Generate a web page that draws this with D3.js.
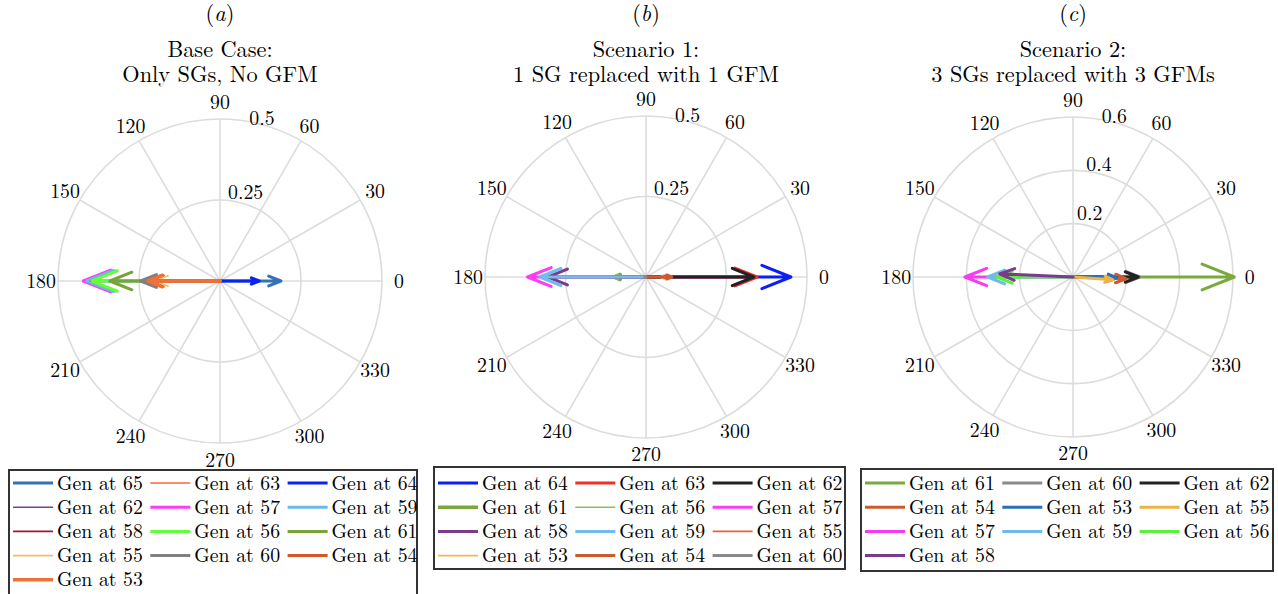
<!DOCTYPE html>
<html><head><meta charset="utf-8">
<script src="https://cdn.jsdelivr.net/npm/d3@7"></script>
</head>
<body style="margin:0;padding:0;background:#fff;">
<svg id="chart" width="1278" height="594" style="display:block;"></svg>
<script>
// ---------- DATA ----------
const angleTicks = [0,30,60,90,120,150,180,210,240,270,300,330];

// Panel (a) Base Case
const gensA   = ["Gen at 65","Gen at 63","Gen at 64","Gen at 62","Gen at 57","Gen at 59","Gen at 58","Gen at 56","Gen at 61","Gen at 55","Gen at 60","Gen at 54","Gen at 53"];
const magA    = [0.188, 0.215, 0.121, 0.405, 0.422, 0.411, 0.40, 0.396, 0.34, 0.20, 0.245, 0.222, 0.223];
const angA    = [0, 180, 0, 180, 180, 180, 180, 180, 180, 180, 180, 180, 180];
const rTicksA = [0.25, 0.5];

// Panel (b) Scenario 1
const gensB   = ["Gen at 64","Gen at 63","Gen at 62","Gen at 61","Gen at 56","Gen at 57","Gen at 58","Gen at 59","Gen at 55","Gen at 53","Gen at 54","Gen at 60"];
const magB    = [0.45, 0.345, 0.335, 0.10, 0.107, 0.368, 0.305, 0.33, 0.07, 0.06, 0.08, 0.004];
const angB    = [0, 0, 0, 180, 180, 180, 180, 180, 0, 0, 0, 180];
const rTicksB = [0.25, 0.5];

// Panel (c) Scenario 2
const gensC   = ["Gen at 61","Gen at 60","Gen at 62","Gen at 54","Gen at 53","Gen at 55","Gen at 57","Gen at 59","Gen at 56","Gen at 58"];
const magC    = [0.605, 0.25, 0.245, 0.20, 0.165, 0.15, 0.405, 0.32, 0.285, 0.275];
const angC    = [0, 0, 0, -2, -1, -4, 180, 180, 180, 177.5];
const rTicksC = [0.2, 0.4, 0.6];

const lettersAll = ["a","b","c"];
const titlesAll = [["Base Case:","Only SGs, No GFM"],["Scenario 1:","1 SG replaced with 1 GFM"],["Scenario 2:","3 SGs replaced with 3 GFMs"]];

// ---------- STYLES ----------
const colorsA = ["#3372b5","#f06a35","#0a24f0","#7b3f9a","#ff3bf5","#6cb8e8","#a0182e","#64ff3c","#77a33b","#ecc160","#808080","#d4562a","#f07038"];
const widthsA = [3,1.6,3,1.6,3,3,1.6,3,3,1.6,3,3,3.4];
const colorsB = ["#0a1ff5","#f0302a","#222222","#78a83c","#90bb5c","#ff3cf2","#7b3a8c","#72bce9","#e0653a","#f0b850","#cc5a2c","#8a8a8a"];
const widthsB = [3,3,3,3.4,1.6,3,3,3,1.6,1.6,3,3];
const colorsC = ["#7aaa3e","#8a8a8a","#222222","#cc5a2e","#2e6fb3","#ecb444","#f53cf2","#6ebbe9","#5cf03c","#7a3b8c"];
const widthsC = [3,3,3,3,3,3,3,3,3,3];

const panels = [
  {gens:gensA, mag:magA, ang:angA, colors:colorsA, widths:widthsA, rTicks:rTicksA, rmax:0.5, cx:220, cy:281, R:162,
   box:{x:9,y:470,w:408,h:135}},
  {gens:gensB, mag:magB, ang:angB, colors:colorsB, widths:widthsB, rTicks:rTicksB, rmax:0.5, cx:646, cy:277, R:161,
   box:{x:434,y:467,w:411,h:102}},
  {gens:gensC, mag:magC, ang:angC, colors:colorsC, widths:widthsC, rTicks:rTicksC, rmax:0.6, cx:1073, cy:277, R:160,
   box:{x:861,y:469,w:412,h:102}}
];

const FONT = '"Latin Modern Roman", "Liberation Serif", serif';
const svg = d3.select("#chart").style("font-family", FONT).attr("font-family", FONT);
const FS = 19.8;
const FT = 22.3;
const gridColor = "#dcdcdc";

panels.forEach((p, i) => {
  const r = d3.scaleLinear().domain([0, p.rmax]).range([0, p.R]);
  const a = d3.scaleLinear().domain([0, 360]).range([0, 2*Math.PI]);
  const px = (m, deg) => p.cx + r(m)*Math.cos(a(deg));
  const py = (m, deg) => p.cy - r(m)*Math.sin(a(deg));
  const g = svg.append("g").style("font-family", FONT);

  // titles
  const t0 = g.append("text").attr("x", p.cx).attr("y", 21).attr("text-anchor","middle").attr("font-size", FT);
  t0.append("tspan").text("(");
  t0.append("tspan").attr("font-style","italic").text(lettersAll[i]);
  t0.append("tspan").text(")");
  titlesAll[i].forEach((line, k) => {
    g.append("text").attr("x", p.cx).attr("y", 57 + k*25).attr("text-anchor","middle")
      .attr("font-size", FT).text(line);
  });

  // grid rings
  g.selectAll(".ring").data(p.rTicks).enter().append("circle")
    .attr("cx", p.cx).attr("cy", p.cy).attr("r", d => r(d))
    .attr("fill","none").attr("stroke", gridColor).attr("stroke-width", 1.6);
  // spokes
  g.selectAll(".spoke").data(angleTicks).enter().append("line")
    .attr("x1", p.cx).attr("y1", p.cy)
    .attr("x2", d => px(p.rmax, d)).attr("y2", d => py(p.rmax, d))
    .attr("stroke", gridColor).attr("stroke-width", 1.6);
  // angle labels
  g.selectAll(".alab").data(angleTicks).enter().append("text")
    .attr("x", d => px(p.rmax*1.105, d)).attr("y", d => py(p.rmax*1.105, d))
    .attr("dy","0.33em").attr("text-anchor","middle").attr("font-size", FS)
    .text(d => d);
  // radial labels
  g.selectAll(".rlab").data(p.rTicks).enter().append("text")
    .attr("x", d => p.cx + 1 + 0.00108*r(d)*r(d))
    .attr("y", d => p.cy - (r(d) + 15 - 0.09*r(d)))
    .attr("dy","0.33em").attr("font-size", FS)
    .text(d => d);

  // arrows (MATLAB compass style)
  const shape = [[0,0],[1,0],[0.8,0.08],[1,0],[0.8,-0.08]];
  p.mag.forEach((m, j) => {
    const th = a(p.ang[j]);
    const pts = shape.map(([u,v]) => {
      const xx = m*(u*Math.cos(th) - v*Math.sin(th));
      const yy = m*(u*Math.sin(th) + v*Math.cos(th));
      const rr = Math.sqrt(xx*xx+yy*yy);
      const tt = Math.atan2(yy, xx);
      return [p.cx + r(rr)*Math.cos(tt), p.cy - r(rr)*Math.sin(tt)];
    });
    g.append("path").attr("d", d3.line()(pts))
      .attr("fill","none").attr("stroke", p.colors[j]).attr("stroke-width", p.widths[j])
      .attr("stroke-linejoin","round").attr("stroke-linecap","round");
  });

  // legend
  const b = p.box;
  const lg = g.append("g");
  lg.append("rect").attr("x", b.x).attr("y", b.y).attr("width", b.w).attr("height", b.h)
    .attr("fill","#fff").attr("stroke","#333").attr("stroke-width", 2);
  p.gens.forEach((name, j) => {
    const col = j % 3, row = Math.floor(j / 3);
    const x0 = b.x + 4 + col*137.3;
    const y0 = 483 + row*24.2;
    lg.append("line").attr("x1", x0).attr("x2", x0+40).attr("y1", y0).attr("y2", y0)
      .attr("stroke", p.colors[j]).attr("stroke-width", p.widths[j]);
    lg.append("text").attr("x", x0+44).attr("y", y0).attr("dy","0.33em")
      .attr("font-size", FS).text(name);
  });
});
</script>
</body></html>
